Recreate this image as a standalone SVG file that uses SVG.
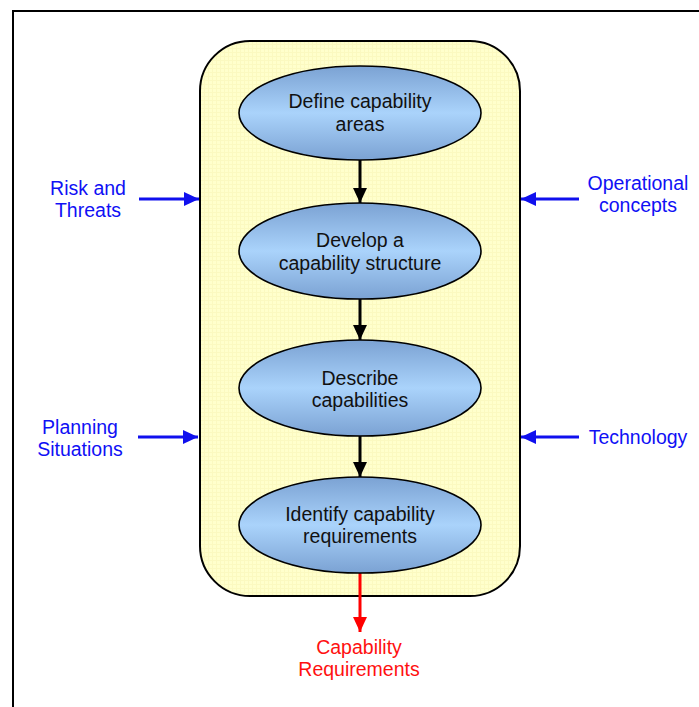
<svg xmlns="http://www.w3.org/2000/svg" width="699" height="707" viewBox="0 0 699 707">
  <style>
    text { font-family: "Liberation Sans", Arial, sans-serif; font-size: 19.5px; text-anchor: middle; }
    .node { fill: url(#blueGrad); stroke: #000; stroke-width: 1.6; }
    .lbl { fill: #111; }
    .input { fill: #1010f5; }
    .output { fill: #ff1010; }
    .flow { stroke: #000; stroke-width: 3; fill: none; }
    .feed { stroke: #1010ee; stroke-width: 3; fill: none; }
    .out { stroke: #ff0000; stroke-width: 3; fill: none; }
  </style>
  <defs>
    <linearGradient id="blueGrad" x1="0" y1="0" x2="0" y2="1">
      <stop offset="0" stop-color="#7ba2d3"/>
      <stop offset="0.5" stop-color="#aad3fb"/>
      <stop offset="1" stop-color="#7ba2d3"/>
    </linearGradient>
    <pattern id="grid" width="4" height="4" patternUnits="userSpaceOnUse">
      <rect width="4" height="4" fill="#ffffcc"/>
      <path d="M0,0.5 H4 M0.5,0 V4" stroke="#fbf9c0" stroke-width="1"/>
    </pattern>
    <marker id="headBlack" markerWidth="5" markerHeight="5" refX="4.3" refY="2" orient="auto" markerUnits="strokeWidth" viewBox="0 0 4.3 4">
      <path d="M0,0 L4.3,2 L0,4 Z" fill="#000"/>
    </marker>
    <marker id="headBlue" markerWidth="5" markerHeight="5" refX="4.3" refY="2" orient="auto" markerUnits="strokeWidth" viewBox="0 0 4.3 4">
      <path d="M0,0 L4.3,2 L0,4 Z" fill="#1010ee"/>
    </marker>
    <marker id="headRed" markerWidth="5" markerHeight="5" refX="4.3" refY="2" orient="auto" markerUnits="strokeWidth" viewBox="0 0 4.3 4">
      <path d="M0,0 L4.3,2 L0,4 Z" fill="#ff0000"/>
    </marker>
  </defs>

  <rect width="699" height="707" fill="#fff"/>
  <!-- page frame -->
  <path d="M13,707 V11 H699" fill="none" stroke="#000" stroke-width="2"/>

  <!-- process container -->
  <g id="process">
    <rect x="200" y="41" width="320" height="555" rx="50" ry="50" fill="url(#grid)" stroke="#000" stroke-width="2"/>
  </g>

  <g id="connectors">
    <line class="flow" x1="360" y1="160" x2="360" y2="203" marker-end="url(#headBlack)"/>
    <line class="flow" x1="360" y1="299" x2="360" y2="340" marker-end="url(#headBlack)"/>
    <line class="flow" x1="360" y1="436" x2="360" y2="477" marker-end="url(#headBlack)"/>
    <line class="feed" x1="139" y1="199" x2="199" y2="199" marker-end="url(#headBlue)"/>
    <line class="feed" x1="138" y1="437" x2="198" y2="437" marker-end="url(#headBlue)"/>
    <line class="feed" x1="579" y1="199" x2="521" y2="199" marker-end="url(#headBlue)"/>
    <line class="feed" x1="579" y1="437" x2="521" y2="437" marker-end="url(#headBlue)"/>
    <line class="out" x1="360" y1="573" x2="360" y2="632" marker-end="url(#headRed)"/>
  </g>

  <g id="define">
    <ellipse class="node" cx="360" cy="113" rx="121" ry="47"/>
    <text class="lbl" x="360" y="108">Define capability</text>
    <text class="lbl" x="360" y="131">areas</text>
  </g>
  <g id="develop">
    <ellipse class="node" cx="360" cy="251" rx="121" ry="48"/>
    <text class="lbl" x="360" y="247">Develop a</text>
    <text class="lbl" x="360" y="270">capability structure</text>
  </g>
  <g id="describe">
    <ellipse class="node" cx="360" cy="388" rx="121" ry="48"/>
    <text class="lbl" x="360" y="385">Describe</text>
    <text class="lbl" x="360" y="407">capabilities</text>
  </g>
  <g id="identify">
    <ellipse class="node" cx="360" cy="525" rx="121" ry="48"/>
    <text class="lbl" x="360" y="521">Identify capability</text>
    <text class="lbl" x="360" y="543">requirements</text>
  </g>

  <g id="risk">
    <text class="input" x="88" y="195">Risk and</text>
    <text class="input" x="88" y="217">Threats</text>
  </g>
  <g id="planning">
    <text class="input" x="80" y="434">Planning</text>
    <text class="input" x="80" y="456">Situations</text>
  </g>
  <g id="operational">
    <text class="input" x="638" y="190">Operational</text>
    <text class="input" x="638" y="212">concepts</text>
  </g>
  <g id="technology">
    <text class="input" x="638" y="444">Technology</text>
  </g>
  <g id="result">
    <text class="output" x="359" y="654">Capability</text>
    <text class="output" x="359" y="676">Requirements</text>
  </g>
</svg>
